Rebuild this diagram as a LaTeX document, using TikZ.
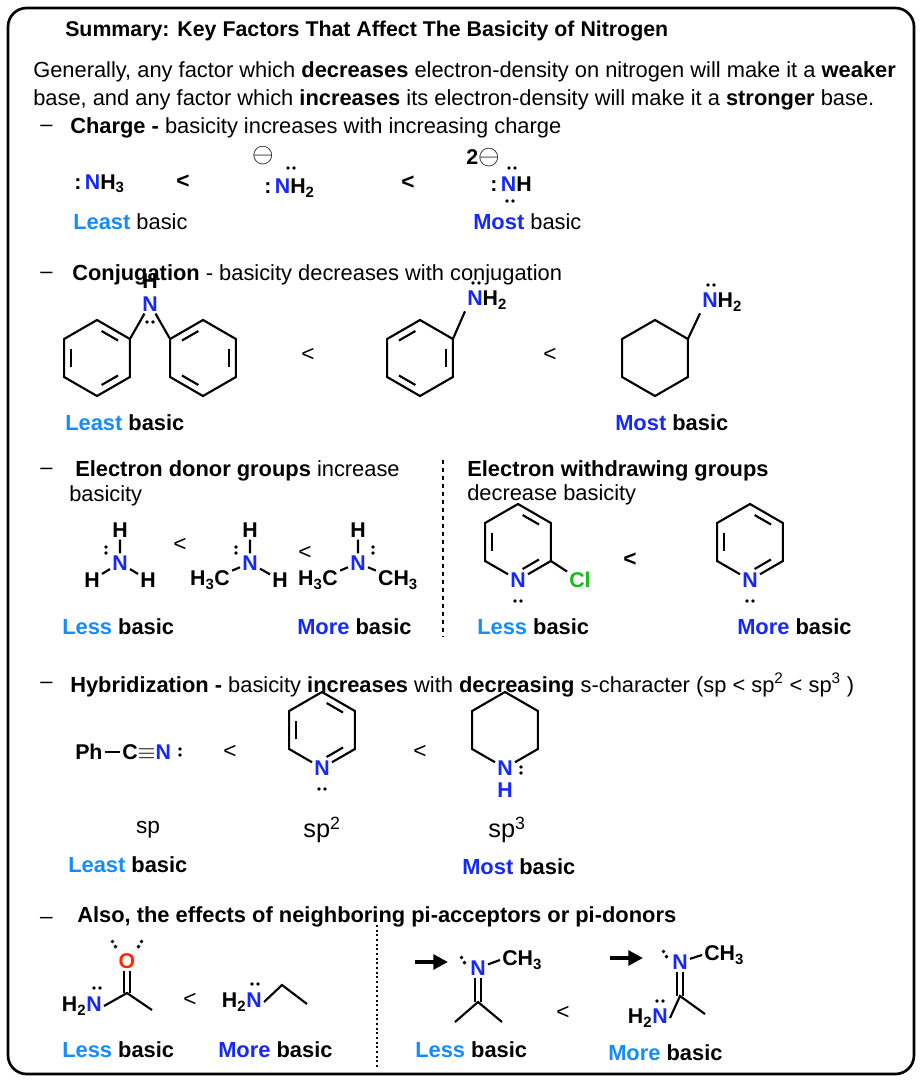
\documentclass[tikz,border=0pt]{standalone}
\usepackage{fontspec}
\setmainfont{Liberation Sans}
\usetikzlibrary{calc,arrows.meta}
\definecolor{lblue}{RGB}{20,140,255}
\definecolor{dblue}{RGB}{20,40,255}
\definecolor{clgreen}{RGB}{20,190,20}
\definecolor{ored}{RGB}{255,40,0}
\tikzset{
  txt/.style={anchor=west, inner sep=0pt, font=\fontsize{16.4}{19}\selectfont},
  head/.style={anchor=west, inner sep=0pt, font=\bfseries\fontsize{16}{19}\selectfont},
  atom/.style={inner sep=1.5pt, font=\bfseries\fontsize{16}{16}\selectfont},
  natom/.style={atom, text=dblue},
  bond/.style={line width=1.6pt},
  lt/.style={inner sep=0pt, font=\fontsize{17}{17}\selectfont},
  fatarrow/.style={line width=3pt, -{Triangle[length=11pt,width=11pt]}}
}
% lone pair: position, angle of the pair axis
\newcommand\lpair[3]{\fill (#1,#2) ++(#3:3) circle (1.9) (#1,#2) ++(#3+180:3) circle (1.9);}
% hexagon: centre x, centre y, radius, prefix
\newcommand\hexpts[4]{\foreach \i in {1,...,6} \coordinate (#4\i) at ($(#1,#2)+({-90+60*(\i-1)}:#3)$); \coordinate (#4c) at (#1,#2);}
\newcommand\inner[3]{\draw[bond] ($(#1)!0.18!(#2)!0.22!(#3)$) -- ($(#2)!0.18!(#1)!0.22!(#3)$);}
\newcommand\lb[2]{\textcolor{#1}{\textbf{#2}}}
\newcommand\negch{\raisebox{-0.5pt}{\fontsize{20}{20}\selectfont$\ominus$}}
\begin{document}
\begin{tikzpicture}[x=0.75pt,y=-0.75pt]
\useasboundingbox (0,0) rectangle (922,1082);
\draw[line width=2pt, rounded corners=14] (8,8) rectangle (914,1074);

\node[head] (title) at (65,31) {Summary: Key Factors That Affect The Basicity of Nitrogen};
\node[txt] (gen1) at (33,72) {Generally, any factor which \textbf{decreases} electron-density on nitrogen will make it a \textbf{weaker}};
\node[txt] (gen2) at (33,100) {base, and any factor which \textbf{increases} its electron-density will make it a \textbf{stronger} base.};

% charge
\node[txt] (d1) at (40,128) {--};
\node[txt] (charge) at (70,128) {\textbf{Charge -} basicity increases with increasing charge};
\node[atom, anchor=west] (nh3) at (72,184) {:\,\textcolor{dblue}{N}H\textsubscript{3}};
\node[lt] (lt1) at (183,182) {\textbf{<}};
\node[atom] (m1) at (263,156) {\negch};
\node[atom, anchor=west] (nh2) at (262,188) {:\,\textcolor{dblue}{N}H\textsubscript{2}};
\lpair{291}{168}{0}
\node[lt] (lt2) at (408,183) {\textbf{<}};
\node[atom] (m2) at (483,158) {2\negch};
\lpair{512}{168}{0}
\node[atom, anchor=west] (nh) at (488,184) {:\,\textcolor{dblue}{N}H};
\lpair{510}{201}{0}
\node[txt] (least1) at (73,222) {\lb{lblue}{Least} basic};
\node[txt] (most1) at (473,222) {\lb{dblue}{Most} basic};

% conjugation
\node[txt] (d2) at (40,275) {--};
\node[txt] (conj) at (72,275) {\textbf{Conjugation} - basicity decreases with conjugation};
\hexpts{97}{358}{38}{a}
\draw[bond] (a1)--(a2)--(a3)--(a4)--(a5)--(a6)--cycle;
\inner{a1}{a2}{ac}\inner{a3}{a4}{ac}\inner{a5}{a6}{ac}
\hexpts{203}{358}{38}{b}
\draw[bond] (b1)--(b2)--(b3)--(b4)--(b5)--(b6)--cycle;
\inner{b1}{b6}{bc}\inner{b4}{b5}{bc}\inner{b2}{b3}{bc}
\node[natom] (n1) at (150,304) {N};
\node[atom] (h1) at (150,281) {H};
\draw[bond] (a2) -- (n1) -- (b6);
\lpair{150}{322}{0}
\node[lt] (lt3) at (308,355) {<};
\hexpts{420}{358}{38}{c}
\draw[bond] (c1)--(c2)--(c3)--(c4)--(c5)--(c6)--cycle;
\inner{c1}{c6}{cc}\inner{c4}{c5}{cc}\inner{c2}{c3}{cc}
\node[natom, anchor=west] (n2) at (465,300) {N\textcolor{black}{H\textsubscript{2}}};
\draw[bond] (c2) -- (n2.south west);
\lpair{476}{283}{0}
\node[lt] (lt4) at (550,355) {<};
\hexpts{655}{358}{38}{e}
\draw[bond] (e1)--(e2)--(e3)--(e4)--(e5)--(e6)--cycle;
\node[natom, anchor=west] (n3) at (700,302) {N\textcolor{black}{H\textsubscript{2}}};
\draw[bond] (e2) -- (n3.south west);
\lpair{711}{285}{0}
\node[txt] (least2) at (65,423) {\lb{lblue}{Least} \textbf{basic}};
\node[txt] (most2) at (615,423) {\lb{dblue}{Most} \textbf{basic}};

% donors / withdrawing
\draw[line width=1.5pt, dashed] (443,460) -- (443,637);
\node[txt] (d3) at (40,471) {--};
\node[txt] (don) at (75,471) {\textbf{Electron donor groups} increase};
\node[txt] (don2) at (69,496) {basicity};
\node[txt] (wd) at (467,471) {\textbf{Electron withdrawing groups}};
\node[txt] (wd2) at (467,495) {decrease basicity};
\node[natom] (n4) at (120,563) {N};
\node[atom] (h4a) at (120,530) {H};
\node[atom] (h4b) at (92,580) {H};
\node[atom] (h4c) at (148,580) {H};
\draw[bond] (n4)--(h4a) (n4)--(h4b) (n4)--(h4c);
\lpair{106}{550}{90}
\node[lt] (lt5) at (180,545) {<};
\node[natom] (n5) at (250,563) {N};
\node[atom] (h5a) at (250,530) {H};
\node[atom] (c5) at (210,580) {H\textsubscript{3}C};
\node[atom] (h5b) at (280,580) {H};
\draw[bond] (n5)--(h5a) (n5)--(c5) (n5)--(h5b);
\lpair{236}{550}{90}
\node[lt] (lt6) at (305,553) {<};
\node[natom] (n6) at (358,563) {N};
\node[atom] (h6) at (358,530) {H};
\node[atom] (c6a) at (318,580) {H\textsubscript{3}C};
\node[atom] (c6b) at (398,580) {CH\textsubscript{3}};
\draw[bond] (n6)--(h6) (n6)--(c6a) (n6)--(c6b);
\lpair{373}{550}{90}
\hexpts{518}{542}{38}{f}
\node[natom, fill=white] (n7) at (f4) {N};
\draw[bond] (n7)--(f5)--(f6)--(f1)--(f2)--(f3)--(n7);
\inner{f5}{f6}{fc}\inner{f1}{f2}{fc}\inner{f3}{f4}{fc}
\node[atom, text=clgreen] (cl) at (580,580) {Cl};
\draw[bond] (f3) -- (cl);
\lpair{518}{601}{0}
\node[lt] (lt7) at (630,560) {\textbf{<}};
\hexpts{750}{542}{38}{g}
\node[natom, fill=white] (n8) at (g4) {N};
\draw[bond] (n8)--(g5)--(g6)--(g1)--(g2)--(g3)--(n8);
\inner{g5}{g6}{gc}\inner{g1}{g2}{gc}\inner{g3}{g4}{gc}
\lpair{750}{601}{0}
\node[txt] (less3) at (62,627) {\lb{lblue}{Less} \textbf{basic}};
\node[txt] (more3) at (297,627) {\lb{dblue}{More} \textbf{basic}};
\node[txt] (less4) at (477,627) {\lb{lblue}{Less} \textbf{basic}};
\node[txt] (more4) at (737,627) {\lb{dblue}{More} \textbf{basic}};

% hybridization
\node[txt] (d4) at (40,685) {--};
\node[txt] (hyb) at (70,685) {\textbf{Hybridization -} basicity \textbf{increases} with \textbf{decreasing} s-character (sp < sp\textsuperscript{2} < sp\textsuperscript{3} )};
\node[atom, anchor=west] (ph) at (73,752) {Ph};
\node[atom, anchor=west] (cn) at (120,752) {C$\equiv$\textcolor{dblue}{N}};
\draw[bond] (ph.east) -- (cn.west);
\lpair{180}{752}{90}
\node[lt] (lt8) at (230,752) {<};
\hexpts{322}{730}{38}{p}
\node[natom, fill=white] (n10) at (p4) {N};
\draw[bond] (n10)--(p5)--(p6)--(p1)--(p2)--(p3)--(n10);
\inner{p5}{p6}{pc}\inner{p1}{p2}{pc}\inner{p3}{p4}{pc}
\lpair{322}{789}{0}
\node[lt] (lt9) at (420,752) {<};
\hexpts{505}{730}{38}{q}
\node[natom, fill=white] (n11) at (q4) {N};
\draw[bond] (n11)--(q5)--(q6)--(q1)--(q2)--(q3)--(n11);
\node[natom] (h11) at (505,790) {H};
\lpair{521}{770}{90}
\node[lt] (sp1) at (148,830) {sp};
\node[lt, font=\fontsize{19}{19}\selectfont] (sp2) at (322,830) {sp\textsuperscript{2}};
\node[lt, font=\fontsize{19}{19}\selectfont] (sp3) at (507,830) {sp\textsuperscript{3}};
\node[txt] (least5) at (68,865) {\lb{lblue}{Least} \textbf{basic}};
\node[txt] (most5) at (462,867) {\lb{dblue}{Most} \textbf{basic}};

% neighbouring pi groups
\node[txt] (d5) at (40,917) {\_};
\node[txt] (also) at (77,917) {\textbf{Also, the effects of neighboring pi-acceptors or pi-donors}};
\draw[line width=1.5pt, dotted] (377,925) -- (377,1068);
\node[atom, text=ored] (o1) at (127,961) {O};
\coordinate (c12) at (127,993);
\coordinate (me12) at (152,1010);
\node[natom, anchor=east] (n12) at (104,1006) {\textcolor{black}{H\textsubscript{2}}N};
\draw[bond] (o1.south) ++(-3,0) -- ($(c12)+(-3,0)$) (o1.south) ++(3,0) -- ($(c12)+(3,0)$);
\draw[bond] (n12.east) -- (c12) -- (me12);
\lpair{114}{944}{60}\lpair{140}{944}{120}\lpair{97}{988}{0}
\node[lt] (lt10) at (190,1000) {<};
\node[natom, anchor=east] (n13) at (264,1002) {\textcolor{black}{H\textsubscript{2}}N};
\coordinate (c13) at (282,985);
\coordinate (e13) at (307,1004);
\draw[bond] (n13.east) -- (c13) -- (e13);
\lpair{255}{984}{0}
\node[natom] (n14) at (478,968) {N};
\node[atom, anchor=west] (me14) at (500,960) {CH\textsubscript{3}};
\coordinate (c14) at (478,1002);
\coordinate (l14) at (455,1022);
\coordinate (r14) at (502,1022);
\draw[bond] (n14) -- (me14.west);
\draw[bond] ($(n14.south)+(-3,0)$) -- ($(c14)+(-3,0)$) ($(n14.south)+(3,0)$) -- ($(c14)+(3,0)$);
\draw[bond] (l14) -- (c14) -- (r14);
\lpair{463}{960}{60}
\coordinate (a14s) at (415,962);
\draw[fatarrow] (a14s) -- ++(33,0);
\node[lt] (lt11) at (563,1013) {<};
\node[natom] (n15) at (680,962) {N};
\node[atom, anchor=west] (me15) at (702,955) {CH\textsubscript{3}};
\coordinate (c15) at (680,996);
\coordinate (r15) at (705,1014);
\node[natom, anchor=east] (n16) at (670,1018) {\textcolor{black}{H\textsubscript{2}}N};
\draw[bond] (n15) -- (me15.west);
\draw[bond] ($(n15.south)+(-3,0)$) -- ($(c15)+(-3,0)$) ($(n15.south)+(3,0)$) -- ($(c15)+(3,0)$);
\draw[bond] (n16.east) -- (c15) -- (r15);
\lpair{665}{954}{60}\lpair{660}{1001}{0}
\coordinate (a15s) at (610,958);
\draw[fatarrow] (a15s) -- ++(33,0);
\node[txt] (less6) at (62,1050) {\lb{lblue}{Less} \textbf{basic}};
\node[txt] (more6) at (218,1050) {\lb{dblue}{More} \textbf{basic}};
\node[txt] (less7) at (415,1050) {\lb{lblue}{Less} \textbf{basic}};
\node[txt] (more7) at (608,1053) {\lb{lblue}{More} \textbf{basic}};
\end{tikzpicture}
\end{document}
